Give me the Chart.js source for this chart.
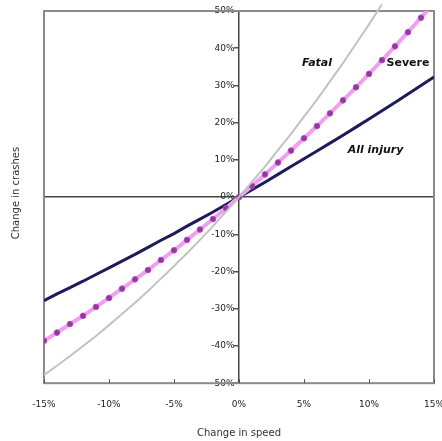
<!DOCTYPE html>
<html>
<head>
<meta charset="utf-8">
<script src="https://cdn.jsdelivr.net/npm/chart.js@4/dist/chart.umd.min.js"></script>
<style>
html,body{margin:0;padding:0;background:#fff;}
#wrap{width:442px;height:441px;position:relative;}
</style>
</head>
<body>
<div id="wrap"><canvas id="c" width="442" height="441"></canvas></div>
<script>
// Change in speed (%), one point per 1%
const speedChange = [-15,-14,-13,-12,-11,-10,-9,-8,-7,-6,-5,-4,-3,-2,-1,0,1,2,3,4,5,6,7,8,9,10,11,12,13,14,15];
// Change in crashes (%)
const fatal = [-47.8,-45.3,-42.7,-40.0,-37.3,-34.4,-31.4,-28.4,-25.2,-21.9,-18.5,-15.1,-11.5,-7.8,-3.9,0,4.1,8.2,12.6,17.0,21.6,26.2,31.1,36.0,41.2,46.4,51.8,null,null,null,null];
const severe = [-38.6,-36.4,-34.1,-31.9,-29.5,-27.1,-24.6,-22.1,-19.6,-16.9,-14.3,-11.5,-8.7,-5.9,-3.0,0,3.0,6.1,9.3,12.5,15.8,19.1,22.5,26.0,29.5,33.1,36.8,40.5,44.3,48.2,52.1];
const allInjury = [-27.8,-26.0,-24.3,-22.6,-20.8,-19.0,-17.2,-15.4,-13.5,-11.6,-9.8,-7.8,-5.9,-4.0,-2.0,0,2.0,4.0,6.1,8.2,10.3,12.4,14.5,16.6,18.8,21.0,23.2,25.4,27.7,30.0,32.3];
// Tick values
const xTicks = [-15,-10,-5,0,5,10,15];
const yTicks = [-50,-40,-30,-20,-10,0,10,20,30,40,50];
// Series annotation labels [text, x, y, style]
const seriesLabels = [
  ["Fatal", 6.0, 36, "italic bold"],
  ["Severe", 13.0, 36, "bold"],
  ["All injury", 10.5, 12.7, "italic bold"]
];

const FONT = '"DejaVu Sans", Verdana, sans-serif';
const toPts = arr => speedChange.map((x,i)=>({x:x, y:arr[i]}));

const decor = {
  id:'decor',
  beforeDatasetsDraw(chart){
    const {ctx, chartArea:a, scales:{x}} = chart;
    ctx.save();
    ctx.strokeStyle = '#8a8a8a';
    ctx.lineWidth = 2;
    ctx.strokeRect(a.left, a.top, a.right-a.left, a.bottom-a.top);
    ctx.strokeStyle = '#555';
    ctx.lineWidth = 1;
    xTicks.forEach(v=>{
      const px = Math.round(x.getPixelForValue(v))+0.5;
      ctx.beginPath(); ctx.moveTo(px, a.bottom); ctx.lineTo(px, a.bottom-4); ctx.stroke();
    });
    ctx.restore();
  },
  afterDraw(chart){
    const {ctx, chartArea:a, scales:{x,y}} = chart;
    ctx.save();
    ctx.fillStyle = '#333';
    ctx.font = '10px ' + FONT;
    ctx.textAlign = 'center';
    ctx.textBaseline = 'middle';
    ctx.translate(16, 193);
    ctx.rotate(-Math.PI/2);
    ctx.fillText('Change in crashes', 0, 0);
    ctx.restore();
    ctx.save();
    ctx.fillStyle = '#111';
    ctx.textAlign = 'center';
    ctx.textBaseline = 'middle';
    seriesLabels.forEach(([t, vx, vy, st])=>{
      ctx.font = st + ' 11px ' + FONT;
      ctx.fillText(t, x.getPixelForValue(vx), y.getPixelForValue(vy));
    });
    ctx.restore();
  }
};

new Chart(document.getElementById('c'), {
  type:'line',
  data:{
    datasets:[
      {label:'Fatal', data:toPts(fatal), borderColor:'#c2c2c2', borderWidth:2, pointRadius:0, tension:0, clip:{left:0,right:0,top:7,bottom:0}},
      {label:'Severe', data:toPts(severe), borderColor:'#f0a0f0', borderWidth:4, pointRadius:2.8, pointBackgroundColor:'#8e3a9e', pointBorderColor:'#b848c0', pointBorderWidth:1, tension:0},
      {label:'All injury', data:toPts(allInjury), borderColor:'#1c1c5c', borderWidth:3, pointRadius:0, tension:0}
    ]
  },
  options:{
    responsive:false,
    animation:false,
    events:[],
    layout:{padding:{left:44, right:8, top:11, bottom:0}},
    plugins:{legend:{display:false}, tooltip:{enabled:false}},
    scales:{
      x:{
        type:'linear', position:'bottom', min:-15, max:15,
        afterBuildTicks(s){ s.ticks = xTicks.map(v=>({value:v})); },
        afterFit(s){ s.paddingLeft = 0; s.paddingRight = 0; },
        grid:{display:true, drawOnChartArea:false, drawTicks:true, tickLength:16, tickColor:'rgba(0,0,0,0)'},
        border:{display:false},
        ticks:{padding:0, color:'#222', font:{size:9, family:FONT}, callback:v=>v+'%', maxRotation:0, autoSkip:false},
        title:{display:true, text:'Change in speed', color:'#333', font:{size:10, family:FONT}, padding:{top:17, bottom:2}}
      },
      y:{
        type:'linear', position:{x:0}, min:-50, max:50,
        afterBuildTicks(s){ s.ticks = yTicks.map(v=>({value:v})); },
        grid:{display:true, drawOnChartArea:true, drawTicks:true, tickLength:4,
              color:c=> (c.tick && c.tick.value===0) ? '#444' : 'rgba(0,0,0,0)',
              tickColor:'#555', lineWidth:1.5},
        border:{display:true, color:'#444', width:1.5},
        ticks:{padding:2, color:'#222', font:{size:9, family:FONT}, callback:v=>v+'%\u2002', autoSkip:false}
      }
    }
  },
  plugins:[decor]
});
</script>
</body>
</html>
